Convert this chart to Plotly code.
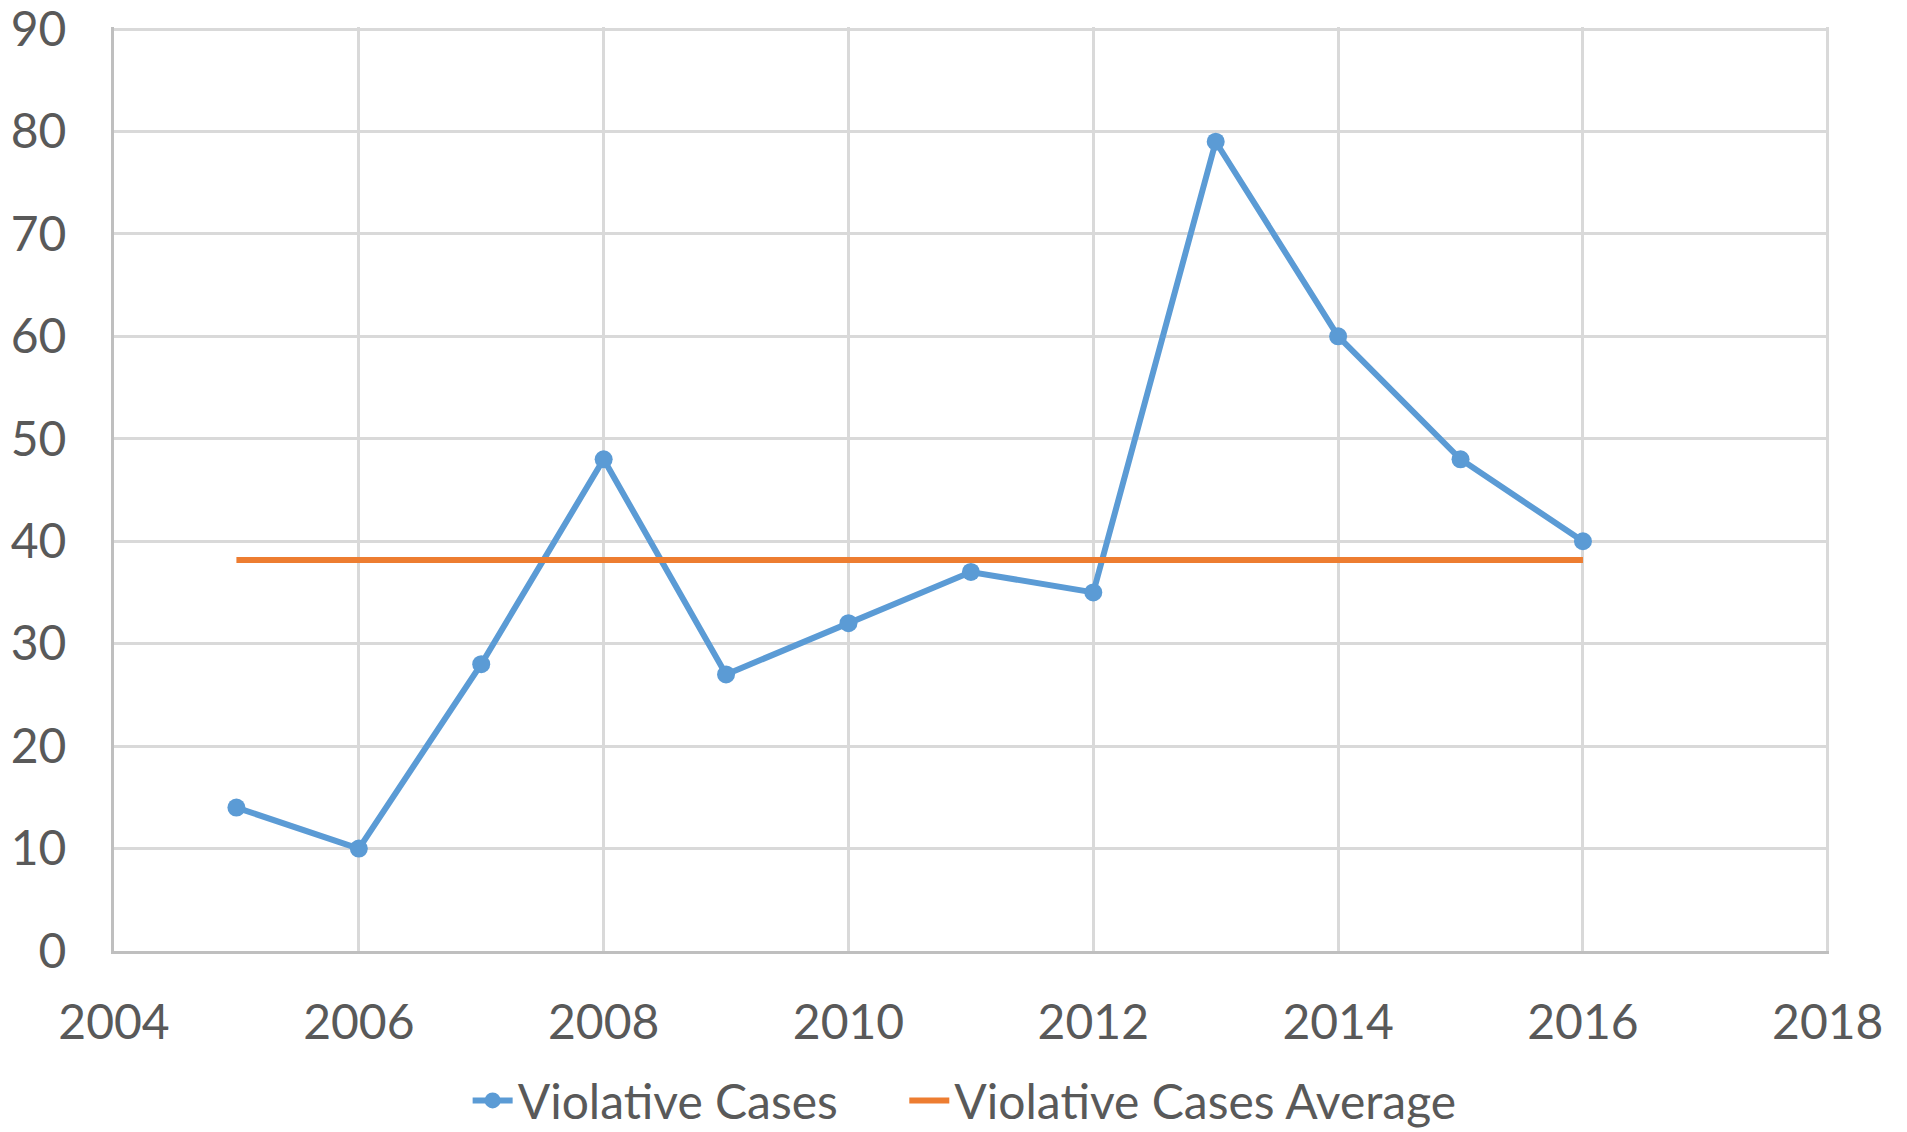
import plotly.graph_objects as go

years = [2005, 2006, 2007, 2008, 2009, 2010, 2011, 2012, 2013, 2014, 2015, 2016]
violative_cases = [14, 10, 28, 48, 27, 32, 37, 35, 79, 60, 48, 40]
average_value = sum(violative_cases) / len(violative_cases)
average_line = [average_value] * len(years)

series_names = ["Violative Cases", "Violative Cases Average"]
x_ticks = [2004, 2006, 2008, 2010, 2012, 2014, 2016, 2018]
y_ticks = [0, 10, 20, 30, 40, 50, 60, 70, 80, 90]

BLUE = "#5B9BD5"
ORANGE = "#ED7D31"
GRID = "#D9D9D9"
AXIS = "#BFBFBF"
TEXT = "#595959"
FONT = "Lato"
NB = "\u00a0"
CLEAR = "rgba(0,0,0,0)"

fig = go.Figure()
fig.add_trace(go.Scatter(
    x=years, y=violative_cases, name=series_names[0] + NB * 5, mode="lines+markers",
    line=dict(color=BLUE, width=6), marker=dict(color=BLUE, size=18),
))
fig.add_trace(go.Scatter(
    x=years, y=average_line, name=series_names[1], mode="lines",
    line=dict(color=ORANGE, width=6),
))

fig.update_layout(
    width=1891, height=1124,
    margin=dict(l=106, r=70, t=19, b=181, autoexpand=False),
    paper_bgcolor="white", plot_bgcolor="white",
    font=dict(family=FONT, size=48, color=TEXT),
    showlegend=True,
    legend=dict(orientation="h", x=0.496, xanchor="center", y=-0.162, yanchor="middle",
                font=dict(family=FONT, size=48, color=TEXT), itemwidth=40,
                traceorder="normal"),
)
fig.update_xaxes(
    range=[2004, 2018.01], tickmode="array", tickvals=x_ticks,
    ticktext=[str(v) for v in x_ticks],
    showgrid=True, gridcolor=GRID, gridwidth=3,
    showline=True, linecolor=AXIS, linewidth=3, mirror=False,
    zeroline=False, ticks="outside", ticklen=27, tickcolor=CLEAR,
    automargin=False, ticklabeloverflow="allow",
    tickfont=dict(family=FONT, size=48, color=TEXT),
)
fig.update_yaxes(
    range=[0, 90.2], tickmode="array", tickvals=y_ticks,
    ticktext=[str(v) for v in y_ticks],
    showgrid=True, gridcolor=GRID, gridwidth=3,
    showline=True, linecolor=AXIS, linewidth=3,
    zeroline=False, ticks="outside", ticklen=35, tickcolor=CLEAR,
    automargin=False, ticklabeloverflow="allow",
    tickfont=dict(family=FONT, size=48, color=TEXT),
)
fig.write_html("out.html")
